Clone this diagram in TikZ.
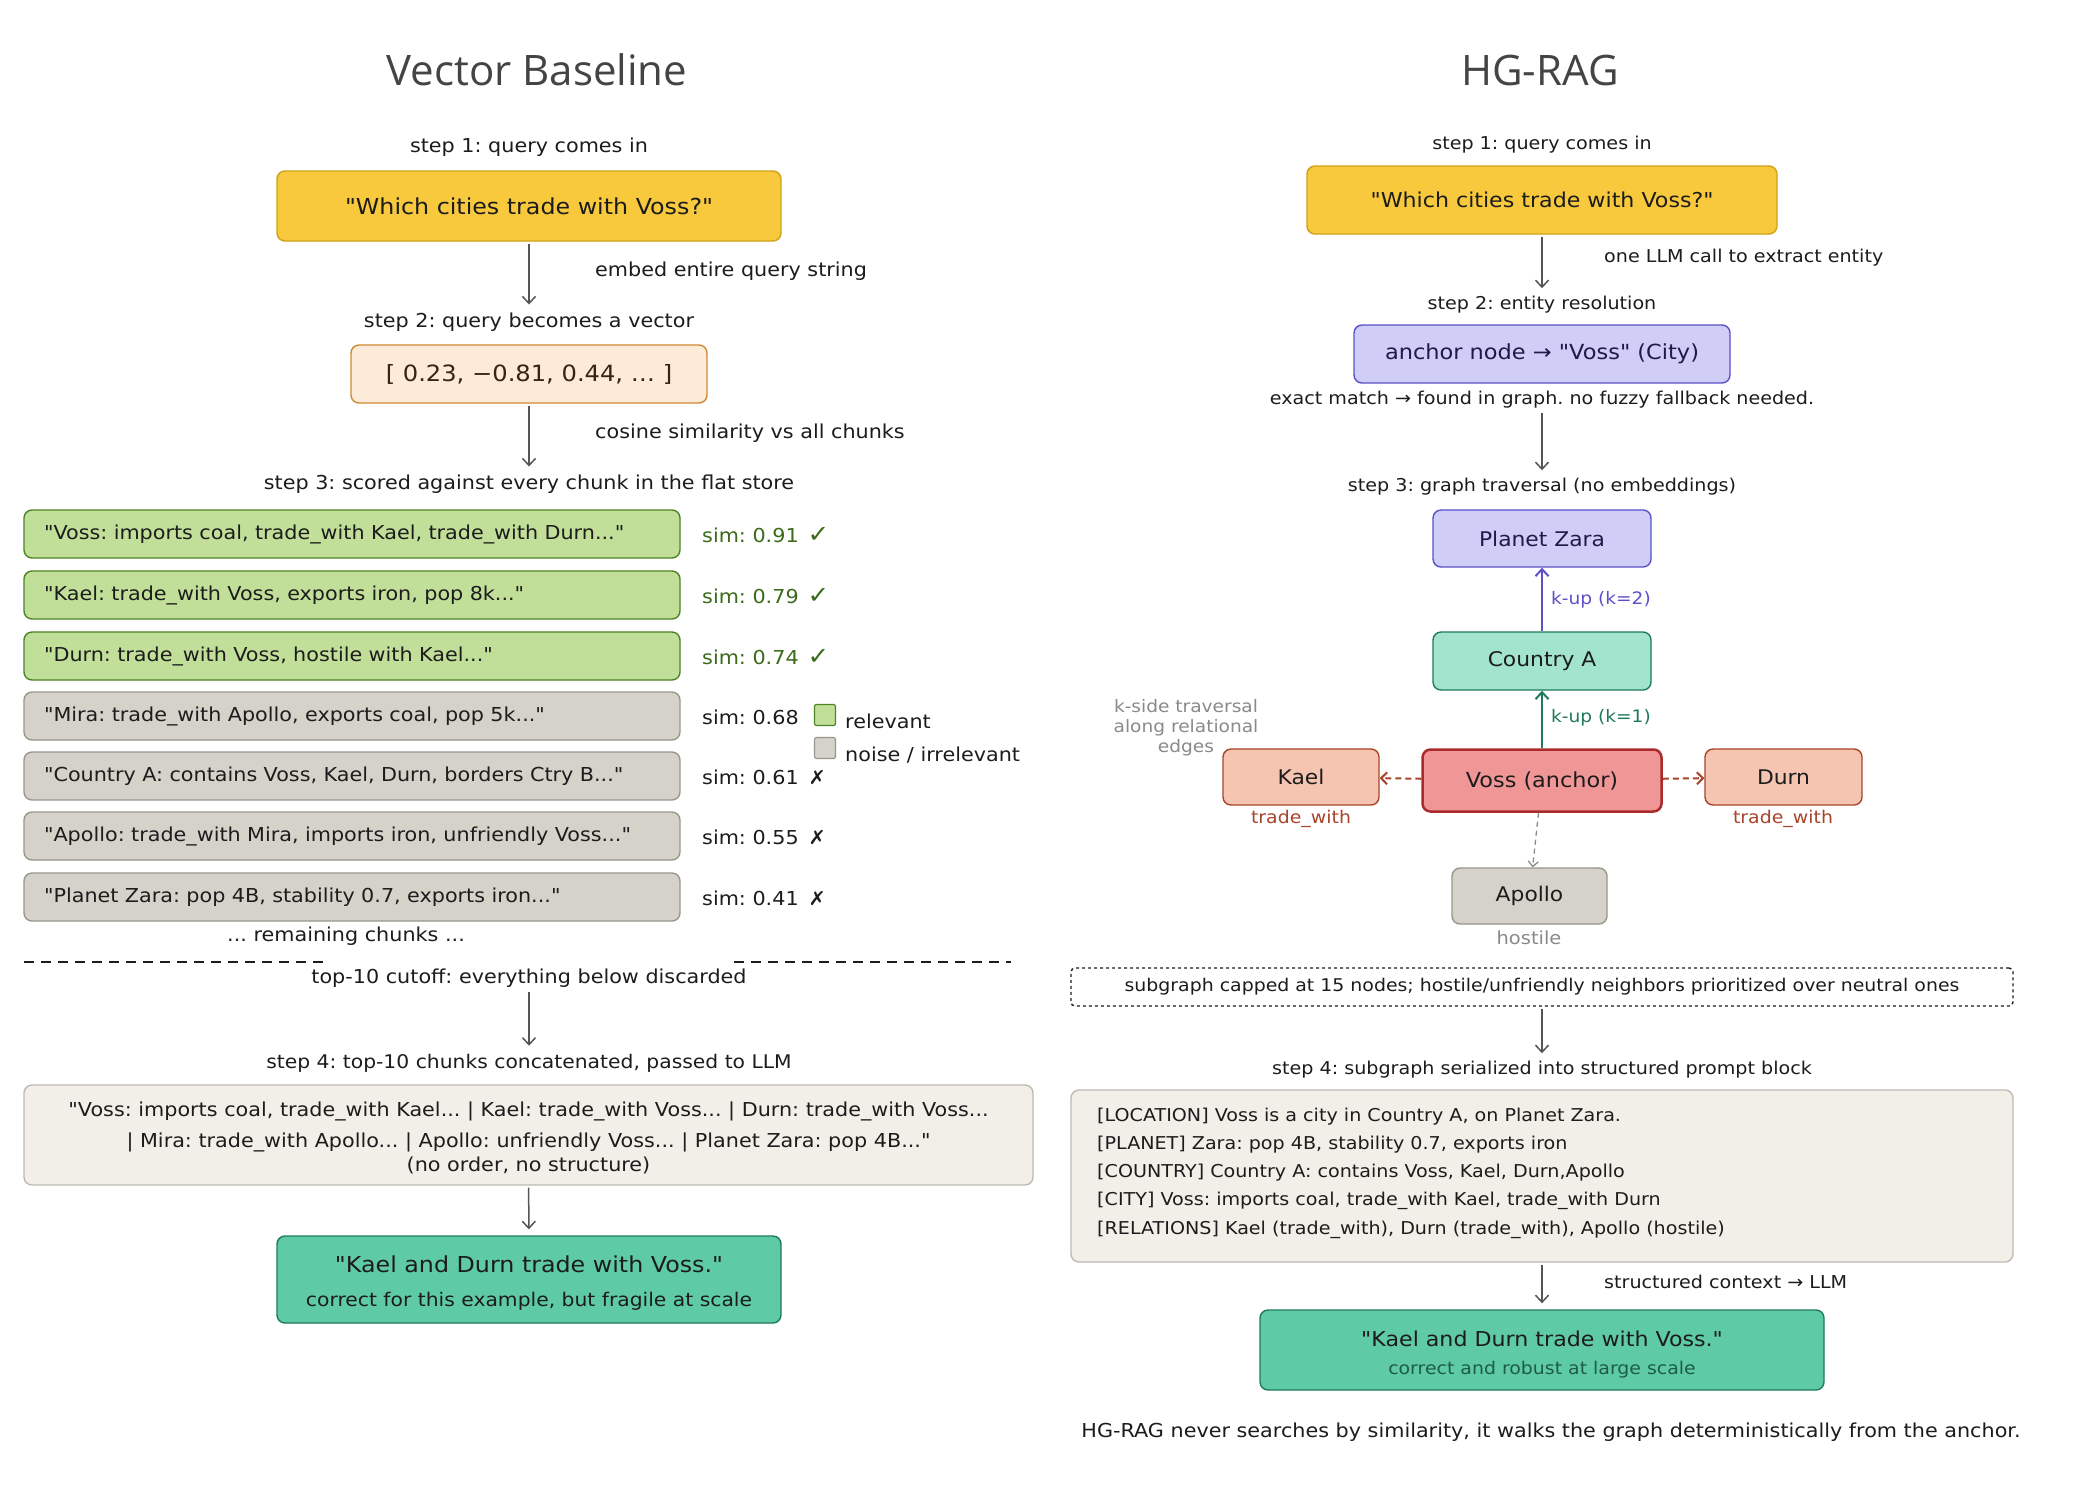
\documentclass[tikz,border=0pt]{standalone}
\usepackage{fontspec}
\setmainfont{DejaVu Sans}[Ligatures=TeXOff, FakeStretch=1.08]
\newfontfamily\titlefont{Open Sans}
\usetikzlibrary{arrows.meta}
\definecolor{ink}{HTML}{1C1C1C}
\definecolor{arrowgray}{HTML}{555555}
\definecolor{titlegray}{HTML}{444444}
\definecolor{qfill}{HTML}{F8C93C}
\definecolor{qdraw}{HTML}{D1A016}
\definecolor{vfill}{HTML}{FCEBD8}
\definecolor{vdraw}{HTML}{CF8A33}
\definecolor{vtext}{HTML}{3A2410}
\definecolor{gfill}{HTML}{C2DF99}
\definecolor{gdraw}{HTML}{4E8423}
\definecolor{gtext}{HTML}{3A6A1A}
\definecolor{nfill}{HTML}{D5D2C9}
\definecolor{ndraw}{HTML}{99968E}
\definecolor{cfill}{HTML}{F2EFE9}
\definecolor{cdraw}{HTML}{BDBAB2}
\definecolor{afill}{HTML}{5ECBA6}
\definecolor{adraw}{HTML}{1E7A5A}
\definecolor{atext}{HTML}{1D5C47}
\definecolor{pfill}{HTML}{D0CEF6}
\definecolor{pdraw}{HTML}{5B50C8}
\definecolor{ptext}{HTML}{1F1A4A}
\definecolor{tfill}{HTML}{A3E4CF}
\definecolor{tdraw}{HTML}{1F7A5A}
\definecolor{rfill}{HTML}{F09696}
\definecolor{rdraw}{HTML}{A92B2B}
\definecolor{sfill}{HTML}{F6C5B2}
\definecolor{sdraw}{HTML}{A8442A}
\definecolor{softgray}{HTML}{8A8A8A}
\begin{document}
\frenchspacing
\begin{tikzpicture}[x=1pt,y=-1pt,
  txt/.style={font=\fontsize{19.2}{23}\selectfont, text=ink, inner sep=2pt},
  rtxt/.style={font=\fontsize{17.7}{21}\selectfont, text=ink, inner sep=2pt},
  small/.style={font=\fontsize{18}{22}\selectfont, text=ink, inner sep=2pt},
  ttl/.style={font=\titlefont\fontsize{42}{48}\selectfont, text=titlegray},
  box/.style={draw, rounded corners=8pt, line width=1.4pt, inner sep=0pt, align=center, text=ink},
  qbox/.style={box, fill=qfill, draw=qdraw, minimum height=70pt, font=\fontsize{22}{26}\selectfont},
  chunkg/.style={box, fill=gfill, draw=gdraw, minimum height=48pt, text width=616pt, inner xsep=20pt, align=left, font=\fontsize{19.2}{23}\selectfont},
  chunkn/.style={chunkg, fill=nfill, draw=ndraw},
  simg/.style={txt, anchor=west, text=gtext},
  simn/.style={txt, anchor=west},
  gbox/.style={box, font=\fontsize{22}{26}\selectfont},
  nbox/.style={box, font=\fontsize{20.2}{24}\selectfont},
  arr/.style={draw=arrowgray, line width=1.5pt, shorten >=6pt, shorten <=2pt, -{Straight Barb[length=7pt,width=13pt,line width=1.5pt]}},
  cut/.style={draw=ink, line width=1.5pt, dash pattern=on 10pt off 7pt},
  rel/.style={draw=sdraw, line width=2pt, dash pattern=on 6pt off 4pt, -{Straight Barb[length=6pt,width=12pt,line width=2pt]}},
]
\useasboundingbox[fill=white] (0,0) rectangle (2100,1500);

% ===================== LEFT: Vector Baseline =====================
\node[ttl] (tL) at (537,70) {Vector Baseline};
\node[txt] (s1L) at (529,147) {step 1: query comes in};
\node[qbox, minimum width=504pt] (qL) at (529,206) {"Which cities trade with Voss?"};
\node[txt] (s2L) at (529,322) {step 2: query becomes a vector};
\draw[arr] (qL) -- (s2L);
\node[txt, anchor=west] (e1) at (593,271) {embed entire query string};
\node[box, fill=vfill, draw=vdraw, minimum width=356pt, minimum height=58pt, text=vtext, font=\fontsize{22.4}{26}\selectfont] (vec) at (529,374) {[ 0.23, −0.81, 0.44, … ]};
\node[txt] (s3L) at (529,484) {step 3: scored against every chunk in the flat store};
\draw[arr] (vec) -- (s3L);
\node[txt, anchor=west] (e2) at (593,433) {cosine similarity vs all chunks};

\node[chunkg] (c1) at (352,534) {"Voss: imports coal, trade\_with Kael, trade\_with Durn..."};
\node[chunkg] (c2) at (352,595) {"Kael: trade\_with Voss, exports iron, pop 8k..."};
\node[chunkg] (c3) at (352,656) {"Durn: trade\_with Voss, hostile with Kael..."};
\node[chunkn] (c4) at (352,716) {"Mira: trade\_with Apollo, exports coal, pop 5k..."};
\node[chunkn] (c5) at (352,776) {"Country A: contains Voss, Kael, Durn, borders Ctry B..."};
\node[chunkn] (c6) at (352,836) {"Apollo: trade\_with Mira, imports iron, unfriendly Voss..."};
\node[chunkn] (c7) at (352,897) {"Planet Zara: pop 4B, stability 0.7, exports iron..."};

\node[simg] (m1) at (700,535) {sim: 0.91\hspace{9pt}{\fontsize{24}{24}\selectfont ✓}};
\node[simg] (m2) at (700,596) {sim: 0.79\hspace{9pt}{\fontsize{24}{24}\selectfont ✓}};
\node[simg] (m3) at (700,657) {sim: 0.74\hspace{9pt}{\fontsize{24}{24}\selectfont ✓}};
\node[simn] (m4) at (700,717) {sim: 0.68};
\node[simn] (m5) at (700,777) {sim: 0.61\hspace{10pt}✗};
\node[simn] (m6) at (700,837) {sim: 0.55\hspace{10pt}✗};
\node[simn] (m7) at (700,898) {sim: 0.41\hspace{10pt}✗};

\node[draw=gdraw, fill=gfill, line width=1.2pt, rounded corners=2pt, minimum width=21pt, minimum height=21pt, inner sep=0pt] (lg1) at (825,715) {};
\node[txt, anchor=west] (lt1) at (843,721) {relevant};
\node[draw=ndraw, fill=nfill, line width=1.2pt, rounded corners=2pt, minimum width=21pt, minimum height=21pt, inner sep=0pt] (lg2) at (825,748) {};
\node[txt, anchor=west] (lt2) at (843,755) {noise / irrelevant};

\node[txt] (rem) at (346,936) {... remaining chunks ...};
\coordinate (d1a) at (24,962);
\coordinate (d1b) at (328,962);
\coordinate (d2a) at (734,962);
\coordinate (d2b) at (1011,962);
\draw[cut] (d1a) -- (d1b);
\draw[cut] (d2a) -- (d2b);
\node[txt] (cutL) at (529,978) {top-10 cutoff: everything below discarded};
\node[txt, font=\fontsize{18.8}{23}\selectfont] (s4L) at (529,1063) {step 4: top-10 chunks concatenated, passed to LLM};
\draw[arr] (cutL) -- (s4L);
\node[box, fill=cfill, draw=cdraw, minimum width=1009pt, minimum height=100pt, font=\fontsize{19.2}{31}\selectfont] (cat) at (528.5,1135) {\rule{0pt}{20pt}"Voss: imports coal, trade\_with Kael... | Kael: trade\_with Voss... | Durn: trade\_with Voss...\\| Mira: trade\_with Apollo... | Apollo: unfriendly Voss... | Planet Zara: pop 4B..."\\[-7pt](no order, no structure)};
\node[gbox, fill=afill, draw=adraw, minimum width=504pt, minimum height=87pt] (ansL) at (529,1279.5) {\rule{0pt}{24.5pt}"Kael and Durn trade with Voss."\\[8pt]{\fontsize{18.8}{22}\selectfont correct for this example, but fragile at scale}};
\draw[arr] (cat) -- (ansL);

% ===================== RIGHT: HG-RAG =====================
\node[ttl] (tR) at (1540,70) {HG-RAG};
\node[rtxt] (s1R) at (1542,145) {step 1: query comes in};
\node[qbox, minimum width=470pt, minimum height=68pt, font=\fontsize{20.5}{24}\selectfont] (qR) at (1542,200) {"Which cities trade with Voss?"};
\node[rtxt] (s2R) at (1542,305) {step 2: entity resolution};
\draw[arr] (qR) -- (s2R);
\node[rtxt, anchor=west] (e3) at (1602,258) {one LLM call to extract entity};
\node[nbox, fill=pfill, draw=pdraw, text=ptext, minimum width=376pt, minimum height=58pt, font=\fontsize{20.8}{24}\selectfont] (anc) at (1542,354) {anchor node → "Voss" (City)};
\node[rtxt] (exact) at (1542,400) {exact match → found in graph. no fuzzy fallback needed.};
\node[rtxt] (s3R) at (1542,487) {step 3: graph traversal (no embeddings)};
\draw[arr] (exact) -- (s3R);

\node[nbox, fill=pfill, draw=pdraw, text=ptext, minimum width=218pt, minimum height=57pt] (pz) at (1542,538.5) {Planet Zara};
\node[nbox, fill=tfill, draw=tdraw, minimum width=218pt, minimum height=58pt] (ca) at (1542,661) {Country A};
\node[nbox, fill=rfill, draw=rdraw, line width=2.5pt, minimum width=239pt, minimum height=62pt, font=\fontsize{20.7}{24}\selectfont] (voss) at (1542,780.5) {Voss (anchor)};
\node[nbox, fill=sfill, draw=sdraw, minimum width=156pt, minimum height=56pt] (kael) at (1301,777) {Kael};
\node[nbox, fill=sfill, draw=sdraw, minimum width=157pt, minimum height=56pt] (durn) at (1783.5,777) {Durn};
\node[nbox, fill=nfill, draw=ndraw, minimum width=155pt, minimum height=56pt] (apo) at (1529.5,896) {Apollo};

\draw[draw=tdraw, line width=2pt, -{Straight Barb[length=7pt,width=13pt,line width=2pt]}] (voss) -- (ca);
\draw[draw=pdraw, line width=2pt, -{Straight Barb[length=7pt,width=13pt,line width=2pt]}] (ca) -- (pz);
\node[small, font=\fontsize{17.2}{21}\selectfont, anchor=west, text=tdraw] (k1) at (1549,718) {k-up (k=1)};
\node[small, font=\fontsize{17.2}{21}\selectfont, anchor=west, text=pdraw] (k2) at (1549,600) {k-up (k=2)};
\draw[rel] (voss) -- (kael);
\draw[rel] (voss) -- (durn);
\draw[draw=softgray, line width=1.3pt, dash pattern=on 5pt off 4pt, -{Straight Barb[length=5pt,width=10pt,line width=1.3pt]}] (voss) -- (apo);
\node[small, font=\fontsize{17.5}{21}\selectfont, text=sdraw] (tw1) at (1301,819) {trade\_with};
\node[small, font=\fontsize{17.5}{21}\selectfont, text=sdraw] (tw2) at (1783,819) {trade\_with};
\node[small, text=softgray] (host) at (1529,938) {hostile};
\node[font=\fontsize{17.2}{20}\selectfont, text=softgray, align=center] (kside) at (1186,728) {k-side traversal\\along relational\\edges};

\node[box, draw=ink, dashed, line width=1.4pt, rounded corners=4pt, minimum width=942pt, minimum height=38pt, font=\fontsize{17.5}{21}\selectfont] (cap) at (1542,987) {subgraph capped at 15 nodes; hostile/unfriendly neighbors prioritized over neutral ones};
\node[rtxt] (s4R) at (1542,1070) {step 4: subgraph serialized into structured prompt block};
\draw[arr] (cap) -- (s4R);
\node[box, fill=cfill, draw=cdraw, minimum width=942pt, minimum height=172pt] (pr) at (1542,1176) {};
\node[rtxt, anchor=west, align=left, font=\fontsize{17.7}{28.3}\selectfont] (prt) at (1095,1173) {{[LOCATION]} Voss is a city in Country A, on Planet Zara.\\{[PLANET]} Zara: pop 4B, stability 0.7, exports iron\\{[COUNTRY]} Country A: contains Voss, Kael, Durn,Apollo\\{[CITY]} Voss: imports coal, trade\_with Kael, trade\_with Durn\\{[RELATIONS]} Kael (trade\_with), Durn (trade\_with), Apollo (hostile)};
\node[nbox, fill=afill, draw=adraw, minimum width=564pt, minimum height=80pt, font=\fontsize{20.5}{24}\selectfont] (ansR) at (1542,1350) {\rule{0pt}{25pt}"Kael and Durn trade with Voss."\\[4pt]{\fontsize{17.5}{22}\selectfont\color{atext} correct and robust at large scale}};
\draw[arr] (pr) -- (ansR);
\node[rtxt, anchor=west] (e4) at (1602,1282) {structured context → LLM};
\node[txt] (foot) at (1551,1432) {HG-RAG never searches by similarity, it walks the graph deterministically from the anchor.};
\end{tikzpicture}
\end{document}
